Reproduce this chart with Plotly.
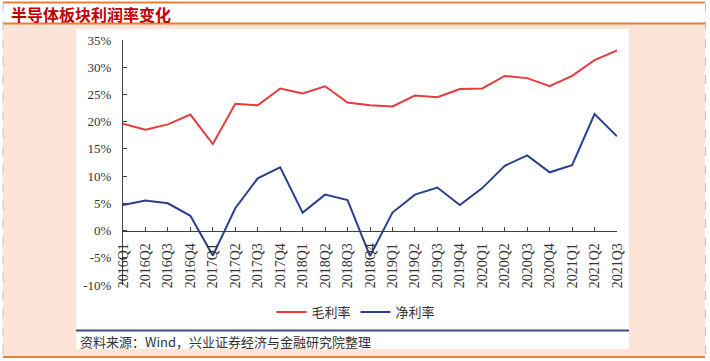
import plotly.graph_objects as go

categories = ["2016Q1", "2016Q2", "2016Q3", "2016Q4",
              "2017Q1", "2017Q2", "2017Q3", "2017Q4",
              "2018Q1", "2018Q2", "2018Q3", "2018Q4",
              "2019Q1", "2019Q2", "2019Q3", "2019Q4",
              "2020Q1", "2020Q2", "2020Q3", "2020Q4",
              "2021Q1", "2021Q2", "2021Q3"]
gross_margin = [19.6, 18.5, 19.5, 21.3, 15.9, 23.3, 23.0, 26.1,
                25.2, 26.5, 23.5, 23.0, 22.8, 24.8, 24.5, 26.0,
                26.1, 28.4, 28.0, 26.5, 28.4, 31.3, 33.1]
net_margin = [4.7, 5.5, 5.0, 2.7, -4.6, 4.1, 9.6, 11.6,
              3.3, 6.6, 5.6, -4.7, 3.3, 6.6, 7.9, 4.7,
              7.8, 11.9, 13.8, 10.7, 12.0, 21.4, 17.3]
y_tick_vals = [-10, -5, 0, 5, 10, 15, 20, 25, 30, 35]
y_tick_text = ["-10%", "-5%", "0%", "5%", "10%", "15%", "20%", "25%", "30%", "35%"]
series_names = ["毛利率", "净利率"]
title_text = "半导体板块利润率变化"
source_text = "资料来源：Wind，兴业证券经济与金融研究院整理"

W, H = 710, 361
L, R, T, B = 123, 617, 40, 285  # plot area in pixels
pw, ph = R - L, B - T


def px(x):
    return (x - L) / pw


def py(y):
    return (B - y) / ph


PEACH = "#fce4d6"
ORANGE = "#ed7d31"
RED = "#e63b3d"
BLUE = "#2b3f8c"
SERIF = "Liberation Serif, Times New Roman, serif"
CJK = "Noto Sans CJK SC, sans-serif"

fig = go.Figure()
fig.add_trace(go.Scatter(x=categories, y=gross_margin, mode="lines",
                         name=series_names[0], line=dict(color=RED, width=2)))
fig.add_trace(go.Scatter(x=categories, y=net_margin, mode="lines",
                         name=series_names[1], line=dict(color=BLUE, width=2)))

ymin, ymax = y_tick_vals[0], y_tick_vals[-1]

shapes = [
    # peach outer area
    dict(type="rect", xref="paper", yref="paper", x0=px(3), x1=px(705), y0=py(24), y1=py(357),
         fillcolor=PEACH, line=dict(width=0), layer="below"),
    # white chart panel
    dict(type="rect", xref="paper", yref="paper", x0=px(76), x1=px(629), y0=py(29), y1=py(349),
         fillcolor="white", line=dict(width=0), layer="below"),
    # orange lines
    dict(type="line", xref="paper", yref="paper", x0=px(3), x1=px(705), y0=py(2.5), y1=py(2.5),
         line=dict(color=ORANGE, width=2)),
    dict(type="line", xref="paper", yref="paper", x0=px(3), x1=px(705), y0=py(23.5), y1=py(23.5),
         line=dict(color=ORANGE, width=2)),
    dict(type="line", xref="paper", yref="paper", x0=px(3), x1=px(705), y0=py(357), y1=py(357),
         line=dict(color=ORANGE, width=2)),
    # dashed side borders
    dict(type="line", xref="paper", yref="paper", x0=px(3), x1=px(3), y0=py(3), y1=py(357),
         line=dict(color="#c0c0c0", width=1, dash="dash")),
    dict(type="line", xref="paper", yref="paper", x0=px(705.5), x1=px(705.5), y0=py(3), y1=py(357),
         line=dict(color="#c0c0c0", width=1, dash="dash")),
    # source separator line
    dict(type="line", xref="paper", yref="paper", x0=px(76), x1=px(629), y0=py(330.5), y1=py(330.5),
         line=dict(color="#3d4a80", width=2)),
]

annotations = [
    dict(text="<b>" + title_text + "</b>", xref="paper", yref="paper", x=px(9), y=py(13.5),
         xanchor="left", yanchor="middle", showarrow=False,
         font=dict(family=CJK, size=16, color="#c00000")),
    dict(text=source_text, xref="paper", yref="paper", x=px(78), y=py(341),
         xanchor="left", yanchor="middle", showarrow=False,
         font=dict(family=CJK, size=13, color="#333333")),
]

fig.update_layout(
    width=W, height=H,
    margin=dict(l=L, r=W - R, t=T, b=H - B, pad=0),
    paper_bgcolor="white",
    plot_bgcolor="rgba(0,0,0,0)",
    showlegend=True,
    legend=dict(orientation="h", x=px(356), y=py(312), xanchor="center", yanchor="middle",
                font=dict(family=CJK, size=13, color="#333333"),
                bgcolor="rgba(0,0,0,0)", itemwidth=30, tracegroupgap=0),
    xaxis=dict(type="category", range=[0, len(categories) - 1],
               anchor="free", position=(0 - ymin) / (ymax - ymin),
               showline=True, linecolor="#404040", linewidth=1,
               ticks="inside", ticklen=4, tickcolor="#404040",
               tickangle=-90, ticklabelstandoff=6,
               tickfont=dict(family=SERIF, size=14, color="#333333"),
               showgrid=False, zeroline=False),
    yaxis=dict(range=[ymin, ymax], domain=[0, 1],
               tickvals=y_tick_vals, ticktext=y_tick_text,
               showline=True, linecolor="#404040", linewidth=1,
               ticks="inside", ticklen=4, tickcolor="#404040",
               ticklabelstandoff=8,
               tickfont=dict(family=SERIF, size=13, color="#333333"),
               showgrid=False, zeroline=False),
    shapes=shapes,
    annotations=annotations,
)

fig.write_html("out.html",
               config={"displayModeBar": False},
               post_script="document.body.style.margin='0';document.body.style.padding='0';")
